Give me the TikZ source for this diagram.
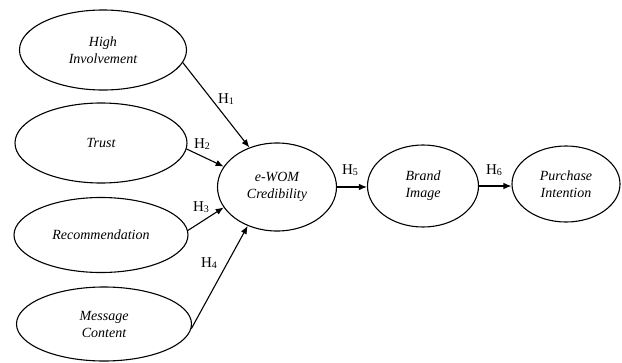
\documentclass[tikz,border=0pt]{standalone}
\usepackage{fontspec}
\setmainfont{Liberation Serif}
\usetikzlibrary{shapes.geometric,arrows.meta}
\newcommand{\hyp}[1]{H\raisebox{-0.25ex}{\fontsize{10}{10}\selectfont #1}}
\begin{document}
\begin{tikzpicture}[x=1pt,y=-1pt,
  construct/.style={draw,ellipse,line width=1.1pt,inner sep=0pt,align=center,
    font=\fontsize{14}{17}\selectfont\itshape},
  arr/.style={-{Latex[length=8pt,width=6.5pt]},line width=1.1pt},
  hlab/.style={font=\fontsize{15}{15}\selectfont,inner sep=0pt}]
\useasboundingbox (0,0) rectangle (622,362);
\node[construct,minimum width=167pt,minimum height=80pt] (hi) at (103,50) {High\\Involvement};
\node[construct,minimum width=172pt,minimum height=80pt] (tr) at (101,143) {Trust};
\node[construct,minimum width=174pt,minimum height=75pt] (rec) at (101,235) {Recommendation};
\node[construct,minimum width=175pt,minimum height=74pt] (mc) at (104,324) {Message\\Content};
\node[construct,minimum width=119pt,minimum height=88pt] (ew) at (277,187) {e-WOM\\Credibility};
\node[construct,minimum width=111pt,minimum height=82pt] (bi) at (423,186) {Brand\\Image};
\node[construct,minimum width=108pt,minimum height=76pt] (pi) at (566,184) {Purchase\\Intention};
\draw[arr] (hi.-9) -- (ew.125);
\draw[arr] (tr.-4) -- (ew.159);
\draw[arr] (rec.3) -- (ew.201);
\draw[arr] (mc.-3) -- (ew.233);
\draw[arr] (ew.east) -- (ew.east -| bi.west);
\draw[arr] (bi.east) -- (bi.east -| pi.west);
\node[hlab] (l1) at (226,99) {\hyp{1}};
\node[hlab] (l2) at (202,144) {\hyp{2}};
\node[hlab] (l3) at (201,207) {\hyp{3}};
\node[hlab] (l4) at (209,263) {\hyp{4}};
\node[hlab] (l5) at (350,170) {\hyp{5}};
\node[hlab] (l6) at (494,170) {\hyp{6}};
\end{tikzpicture}
\end{document}
